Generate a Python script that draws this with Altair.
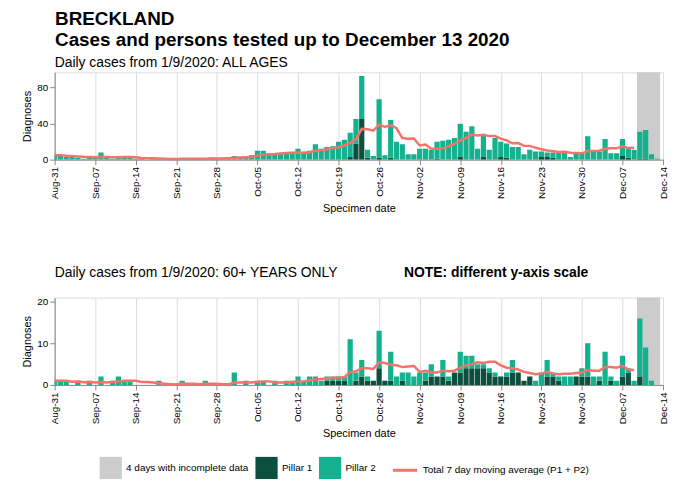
import altair as alt
import pandas as pd

FONT = "Liberation Sans"
START_YEAR, START_MONTH0, START_DAY = 2020, 7, 31   # Aug-31 2020 (month 0-based)

# daily totals, Aug-31 .. Dec-13 (105 days)
all_total = [5, 5, 3, 3, 2, 1, 2, 2, 8, 2,
             1, 2, 3, 2, 1, 1, 0, 1, 1, 1,
             0, 1, 2, 1, 1, 1, 1, 2, 1, 2,
             3, 4, 3, 4, 5, 10, 10, 6, 6, 7,
             7, 8, 12, 8, 10, 17, 12, 14, 15, 20,
             22, 30, 45, 93, 11, 4, 67, 5, 44, 20,
             17, 6, 6, 12, 12, 11, 20, 21, 22, 24,
             40, 31, 37, 12, 28, 11, 24, 20, 18, 14,
             14, 6, 11, 9, 9, 8, 8, 8, 8, 3,
             7, 7, 26, 9, 9, 23, 7, 7, 23, 12,
             11, 31, 33, 6, 1]
all_p1 = [0, 0, 0, 0, 0, 0, 0, 0, 0, 0,
          0, 0, 0, 0, 0, 0, 0, 0, 0, 0,
          0, 0, 0, 0, 0, 0, 0, 0, 0, 0,
          0, 0, 0, 0, 0, 0, 0, 0, 0, 0,
          0, 0, 0, 0, 0, 0, 0, 0, 0, 0,
          0, 3, 18, 45, 2, 0, 2, 0, 2, 0,
          0, 0, 0, 0, 0, 0, 1, 0, 0, 0,
          3, 0, 0, 0, 3, 0, 0, 3, 2, 0,
          0, 0, 0, 0, 3, 3, 2, 0, 0, 0,
          0, 0, 0, 0, 0, 0, 0, 0, 4, 2,
          0, 1, 1, 0, 0]
old_total = [1, 1, 1, 0, 1, 0, 1, 0, 2, 0,
             1, 2, 1, 1, 0, 0, 0, 0, 1, 0,
             0, 0, 1, 0, 0, 0, 1, 0, 0, 0,
             0, 3, 0, 1, 0, 1, 1, 0, 1, 0,
             1, 1, 2, 1, 2, 2, 1, 2, 2, 2,
             2, 11, 3, 6, 2, 1, 13, 1, 8, 2,
             3, 3, 2, 3, 3, 5, 2, 6, 2, 3,
             8, 7, 7, 5, 5, 4, 3, 2, 3, 6,
             3, 1, 2, 1, 3, 6, 3, 2, 2, 2,
             2, 4, 10, 2, 2, 8, 2, 1, 7, 4,
             1, 16, 9, 1, 0]
old_p1 = [0, 0, 0, 0, 0, 0, 0, 0, 0, 0,
          0, 0, 0, 0, 0, 0, 0, 0, 0, 0,
          0, 0, 0, 0, 0, 0, 0, 0, 0, 0,
          0, 0, 0, 0, 0, 0, 0, 0, 0, 0,
          0, 0, 0, 0, 0, 0, 0, 1, 1, 1,
          1, 0, 1, 2, 1, 1, 4, 1, 1, 0,
          1, 0, 0, 0, 1, 2, 2, 2, 1, 3,
          3, 4, 4, 4, 4, 3, 2, 2, 2, 3,
          3, 1, 2, 0, 0, 2, 2, 1, 0, 0,
          2, 2, 2, 0, 1, 0, 1, 0, 2, 3,
          0, 2, 0, 0, 0]
incomplete_days = [101, 102, 103, 104]
last_complete_day = 100
tick_days = [0, 7, 14, 21, 28, 35, 42, 49, 56, 63, 70, 77, 84, 91, 98, 105]

LBL_INC = "4 days with incomplete data"
LBL_P1 = "Pillar 1"
LBL_P2 = "Pillar 2"
LBL_MA = "Total 7 day moving average (P1 + P2)"

fill_scale = alt.Scale(domain=[LBL_INC, LBL_P1, LBL_P2],
                       range=["#cccccc", "#0c4f3f", "#13b18e"])
stroke_scale = alt.Scale(domain=[LBL_MA], range=["#f4736b"])

W, H = 613, 88
LEG_Y = 387

fill_legend = alt.Legend(orient="none", legendX=45, legendY=LEG_Y, direction="horizontal",
                         symbolType="square", symbolSize=500, symbolStrokeWidth=0,
                         title=None, columnPadding=6, labelLimit=300)
stroke_legend = alt.Legend(orient="none", legendX=339, legendY=LEG_Y, direction="horizontal",
                           symbolType="stroke", symbolStrokeWidth=3, symbolSize=600,
                           title=None, labelLimit=300)


def panel(total, p1, ymax, yticks, title=None, title_parts=None):
    rows = []
    for d, (t, a) in enumerate(zip(total, p1)):
        rows.append({"day": d, "pillar": LBL_P1, "lo": 0, "hi": a})
        rows.append({"day": d, "pillar": LBL_P2, "lo": a, "hi": t})
    bars_df = pd.DataFrame(rows)
    tot_df = pd.DataFrame({"day": list(range(len(total))), "total": total})
    inc_df = pd.DataFrame({"start": [min(incomplete_days) - 0.5],
                           "end": [max(incomplete_days) + 0.5],
                           "lab": [LBL_INC]})

    xscale = alt.Scale(domain=[0, 105], nice=False, zero=False)
    yscale = alt.Scale(domain=[0, ymax], nice=False)
    xaxis = alt.Axis(values=tick_days, labelAngle=-90, title="Specimen date",
                     titleFontWeight="normal",
                     labelExpr=f"timeFormat(datetime({START_YEAR}, {START_MONTH0}, {START_DAY} + datum.value), '%b-%d')")
    yaxis = alt.Axis(values=yticks, title="Diagnoses", titleFontWeight="normal")

    rect = alt.Chart(inc_df).mark_rect().encode(
        x=alt.X("start:Q", scale=xscale, axis=xaxis),
        x2="end:Q",
        y=alt.datum(0, scale=yscale),
        y2=alt.datum(ymax),
        color=alt.Color("lab:N", scale=fill_scale, legend=fill_legend),
    )
    bars = alt.Chart(bars_df).transform_calculate(
        x0="datum.day - 0.45", x1="datum.day + 0.45"
    ).mark_bar(clip=True).encode(
        x=alt.X("x0:Q", scale=xscale, axis=xaxis),
        x2="x1:Q",
        y=alt.Y("lo:Q", scale=yscale, axis=yaxis),
        y2="hi:Q",
        color=alt.Color("pillar:N", scale=fill_scale, legend=fill_legend),
    )
    line = alt.Chart(tot_df).transform_window(
        ma="mean(total)", frame=[-6, 0], sort=[{"field": "day"}]
    ).transform_filter(f"datum.day <= {last_complete_day}").transform_calculate(
        lab=f"'{LBL_MA}'"
    ).mark_line(strokeWidth=2.5).encode(
        x=alt.X("day:Q", scale=xscale, axis=xaxis),
        y=alt.Y("ma:Q", scale=yscale, axis=yaxis),
        stroke=alt.Stroke("lab:N", scale=stroke_scale, legend=stroke_legend),
    )
    layers = [rect, bars, line]
    if title_parts is not None:
        for txt, xpos, weight in title_parts:
            tdf = pd.DataFrame({"t": [txt]})
            layers.append(alt.Chart(tdf).mark_text(
                align="left", baseline="alphabetic", font=FONT, fontSize=14,
                fontWeight=weight, color="black"
            ).encode(text="t:N", x=alt.value(xpos), y=alt.value(-21)))
    props = dict(width=W, height=H)
    if title is not None:
        props["title"] = alt.TitleParams(title, anchor="start", fontSize=14, font=FONT,
                                         fontWeight="normal", color="black", offset=2,
                                         frame="group")
    return alt.layer(*layers).properties(**props)


top = panel(all_total, all_p1, 97, [0, 20, 40, 60, 80],
            title="Daily cases from 1/9/2020: ALL AGES")
bottom = panel(old_total, old_p1, 21, [0, 5, 10, 15, 20],
               title_parts=[("Daily cases from 1/9/2020: 60+ YEARS ONLY", 0, "normal"),
                            ("NOTE: different y-axis scale", 352, "bold")])

chart = alt.vconcat(top, bottom, spacing=51).resolve_scale(
    color="shared", stroke="shared"
).properties(
    title=alt.TitleParams(["BRECKLAND", "Cases and persons tested up to December 13 2020"],
                          anchor="start", fontSize=19, font=FONT, fontWeight="bold",
                          color="black", lineHeight=21, offset=6, dx=34),
    padding={"left": 13, "top": 0, "right": 0, "bottom": 0},
).configure_view(stroke=None).configure_axis(
    grid=False, domainColor="black", tickColor="black", labelColor="#222",
    labelFont=FONT, titleFont=FONT, labelFontSize=10.5, titleFontSize=13,
    titleFontWeight="normal", titleColor="black", tickSize=4,
).configure_legend(
    labelFont=FONT, labelFontSize=11, labelColor="black", labelOffset=6,
    labelLimit=300,
).configure(background="white")

chart.save("out.html", embed_options={"renderer": "svg", "actions": False})
